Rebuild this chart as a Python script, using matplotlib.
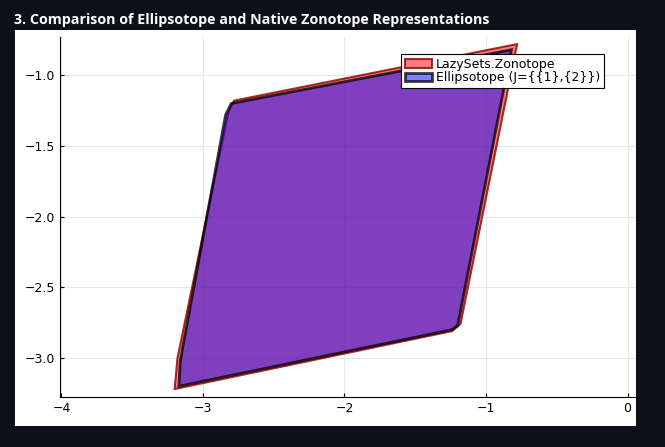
import matplotlib.pyplot as plt
from matplotlib.patches import Polygon, Rectangle

# vertices
zono_x = [-3.20, -1.24, -1.18, -0.78, -2.78, -2.82, -3.18]
zono_y = [-3.22, -2.81, -2.76, -0.78, -1.18, -1.26, -3.00]
ell_x = [-3.17, -1.24, -1.20, -0.82, -2.80, -2.84, -3.16]
ell_y = [-3.20, -2.80, -2.77, -0.82, -1.20, -1.28, -3.02]

fig = plt.figure(figsize=(6.65, 4.47), dpi=100, facecolor='#0d1117')
fig.patches.append(Rectangle((15/665, 1-426/447), 621/665, 396/447,
                             transform=fig.transFigure, facecolor='white', zorder=-10))
fig.text(14/665, 1-20/447, '3. Comparison of Ellipsotope and Native Zonotope Representations',
         color='white', fontsize=10.3, fontweight='bold', va='center', family='Open Sans')

ax = fig.add_axes([60/665, 50/447, 576/665, 360/447])
ax.set_zorder(1)
ax.set_facecolor('white')
ax.add_patch(Polygon(list(zip(zono_x, zono_y)), closed=True, facecolor=(1, 0, 0, 0.5),
                     edgecolor=(0.55, 0, 0, 0.8), linewidth=1.5, label='LazySets.Zonotope'))
ax.add_patch(Polygon(list(zip(ell_x, ell_y)), closed=True, facecolor=(0, 0, 1, 0.5),
                     edgecolor=(0, 0, 0, 0.75), linewidth=2, label='Ellipsotope (J={{1},{2}})'))
ax.set_xlim(-4.01, 0.06)
ax.set_ylim(-3.276, -0.73)
ax.set_xticks([-4, -3, -2, -1, 0])
ax.set_yticks([-3.0, -2.5, -2.0, -1.5, -1.0])
ax.set_xticklabels(['\u22124', '\u22123', '\u22122', '\u22121', '0'])
ax.set_yticklabels(['\u22123.0', '\u22122.5', '\u22122.0', '\u22121.5', '\u22121.0'])
ax.grid(True, color='#e8e8e8', linewidth=0.8)
ax.set_axisbelow(True)
for s in ['top', 'right']:
    ax.spines[s].set_visible(False)
ax.tick_params(labelsize=9, direction='in', length=3)
leg = ax.legend(loc='upper right', bbox_to_anchor=(0.955, 0.97), fontsize=9, fancybox=False,
                edgecolor='black', framealpha=1, handlelength=2.2, borderpad=0.3,
                labelspacing=0.05, handletextpad=0.3)
leg.get_frame().set_linewidth(0.8)
fig.savefig('out.png', dpi=100, facecolor=fig.get_facecolor())
